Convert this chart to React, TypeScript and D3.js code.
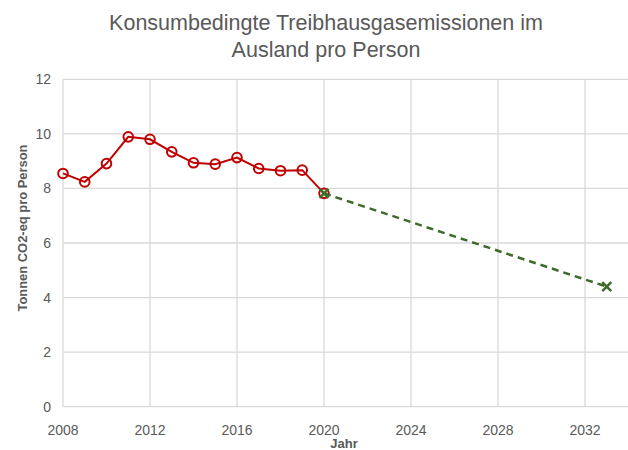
import { useEffect, useRef } from 'react';
import * as d3 from 'd3';

const years = [2008, 2009, 2010, 2011, 2012, 2013, 2014, 2015, 2016, 2017, 2018, 2019, 2020];
const emissions = [8.55, 8.24, 8.91, 9.89, 9.8, 9.34, 8.94, 8.89, 9.13, 8.73, 8.65, 8.67, 7.82];
const targetYears = [2020, 2033];
const targetValues = [7.82, 4.4];
const xTicks = [2008, 2012, 2016, 2020, 2024, 2028, 2032];
const yTicks = [0, 2, 4, 6, 8, 10, 12];

const App = () => {
  const ref = useRef<SVGSVGElement>(null);

  useEffect(() => {
    const svg = d3.select(ref.current);
    svg.selectAll('*').remove();

    const x = d3.scaleLinear().domain([2008, 2034]).range([63, 628.5]);
    const y = d3.scaleLinear().domain([0, 12]).range([406.7, 79.3]);
    const font = 'Liberation Sans, Arial, sans-serif';
    const grey = '#595959';

    // gridlines
    svg.append('g')
      .selectAll('line.h')
      .data(yTicks)
      .enter()
      .append('line')
      .attr('x1', 63).attr('x2', 628)
      .attr('y1', d => y(d)).attr('y2', d => y(d))
      .attr('stroke', '#d9d9d9').attr('stroke-width', 1.3);

    svg.append('g')
      .selectAll('line.v')
      .data(xTicks)
      .enter()
      .append('line')
      .attr('x1', d => x(d)).attr('x2', d => x(d))
      .attr('y1', y(12)).attr('y2', y(0))
      .attr('stroke', '#d9d9d9').attr('stroke-width', 1.3);

    // tick labels
    svg.append('g')
      .selectAll('text')
      .data(yTicks)
      .enter()
      .append('text')
      .attr('x', 51)
      .attr('y', d => y(d) + 5)
      .attr('text-anchor', 'end')
      .attr('font-family', font).attr('font-size', 14).attr('fill', grey)
      .text(d => d);

    svg.append('g')
      .selectAll('text')
      .data(xTicks)
      .enter()
      .append('text')
      .attr('x', d => x(d))
      .attr('y', 435)
      .attr('text-anchor', 'middle')
      .attr('font-family', font).attr('font-size', 14).attr('fill', grey)
      .text(d => d);

    // titles
    const title = svg.append('text')
      .attr('text-anchor', 'middle')
      .attr('font-family', font).attr('font-size', 21.5).attr('fill', grey);
    title.append('tspan').attr('x', 326).attr('y', 30).text('Konsumbedingte Treibhausgasemissionen im');
    title.append('tspan').attr('x', 326).attr('y', 57).text('Ausland pro Person');

    svg.append('text')
      .attr('transform', `translate(27,228) rotate(-90)`)
      .attr('text-anchor', 'middle')
      .attr('font-family', font).attr('font-size', 12.5).attr('font-weight', 'bold').attr('fill', grey)
      .attr('textLength', 167).attr('lengthAdjust', 'spacingAndGlyphs')
      .text('Tonnen CO2-eq pro Person');

    svg.append('text')
      .attr('x', 344).attr('y', 448)
      .attr('text-anchor', 'middle')
      .attr('font-family', font).attr('font-size', 13).attr('font-weight', 'bold').attr('fill', grey)
      .text('Jahr');

    // historical series
    const red = '#c00000';
    const pts = years.map((yr, i) => [yr, emissions[i]] as [number, number]);
    svg.append('path')
      .attr('d', d3.line<[number, number]>().x(d => x(d[0])).y(d => y(d[1]))(pts))
      .attr('fill', 'none').attr('stroke', red).attr('stroke-width', 2);
    svg.append('g')
      .selectAll('circle')
      .data(pts)
      .enter()
      .append('circle')
      .attr('cx', d => x(d[0])).attr('cy', d => y(d[1]))
      .attr('r', 4.8)
      .attr('fill', 'none').attr('stroke', red).attr('stroke-width', 2);

    // target path
    const green = '#3d6b2a';
    const tpts = targetYears.map((yr, i) => [yr, targetValues[i]] as [number, number]);
    svg.append('path')
      .attr('d', d3.line<[number, number]>().x(d => x(d[0])).y(d => y(d[1]))(tpts))
      .attr('fill', 'none').attr('stroke', green).attr('stroke-width', 2.5)
      .attr('stroke-dasharray', '7,5');
    const s = 4.5;
    svg.append('g')
      .selectAll('path')
      .data(tpts)
      .enter()
      .append('path')
      .attr('d', d => {
        const cx = x(d[0]), cy = y(d[1]);
        return `M${cx - s},${cy - s}L${cx + s},${cy + s}M${cx - s},${cy + s}L${cx + s},${cy - s}`;
      })
      .attr('stroke', green).attr('stroke-width', 2.5).attr('fill', 'none');
  }, []);

  return <svg ref={ref} width={628} height={450} style={{ position: 'absolute', left: 0, top: 0 }} />;
};

export default App;
